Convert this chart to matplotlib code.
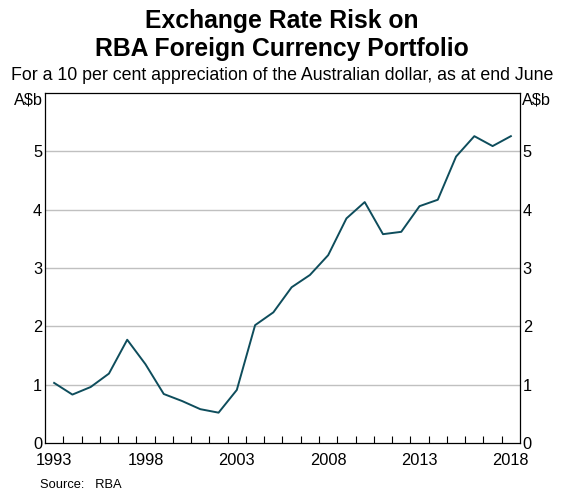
import matplotlib
matplotlib.use("Agg")
import matplotlib.pyplot as plt
import numpy as np

plt.rcParams['font.family'] = ['Liberation Sans', 'DejaVu Sans']

years = list(range(1993, 2019))
values = [1.03, 0.83, 0.96, 1.19, 1.77, 1.35, 0.84, 0.72, 0.58, 0.52,
          0.91, 2.02, 2.24, 2.67, 2.88, 3.22, 3.85, 4.13, 3.58, 3.62,
          4.06, 4.17, 4.91, 5.26, 5.09, 5.26]
label_years = [1993, 1998, 2003, 2008, 2013, 2018]
yticks = [0, 1, 2, 3, 4, 5]

fig = plt.figure(figsize=(5.64, 4.95), dpi=100)
ax = fig.add_axes([45/564, 1-443/495, 475/564, 350/495])

x = np.array(years) + 0.5
ax.plot(x, values, color='#0e4d5c', lw=1.4)

ax.set_xlim(1993, 2019)
ax.set_ylim(0, 6)
for v in yticks[1:]:
    ax.axhline(v, color='#c0c0c0', lw=1.0, zorder=0)

ax.set_xticks(np.arange(1994, 2019), minor=True)
ax.set_xticks(np.array(label_years) + 0.5)
ax.set_xticklabels([str(y) for y in label_years], fontsize=11.8)
ax.tick_params(axis='x', which='major', length=0, pad=7)
ax.tick_params(axis='x', which='minor', direction='in', length=5, width=0.8, color='black')

ax.set_yticks(yticks)
ax.set_yticklabels([str(v) for v in yticks], fontsize=11.8)
ax.tick_params(axis='y', length=0, pad=2, labelleft=True, labelright=True)
for s in ax.spines.values():
    s.set_linewidth(0.9)

fig.text(45/564 - 0.004, 1-100/495, 'A$b', ha='right', va='center', fontsize=11.8)
fig.text(520/564 + 0.004, 1-100/495, 'A$b', ha='left', va='center', fontsize=11.8)

fig.text(0.5, 1-21/495, 'Exchange Rate Risk on', ha='center', va='center', fontsize=17.8, fontweight='bold')
fig.text(0.5, 1-49/495, 'RBA Foreign Currency Portfolio', ha='center', va='center', fontsize=17.8, fontweight='bold')
fig.text(0.5, 1-76/495, 'For a 10 per cent appreciation of the Australian dollar, as at end June',
         ha='center', va='center', fontsize=12.8)
fig.text(40/564, 1-485/495, 'Source:   RBA', ha='left', va='center', fontsize=9.3)

fig.savefig('out.png', dpi=100)
